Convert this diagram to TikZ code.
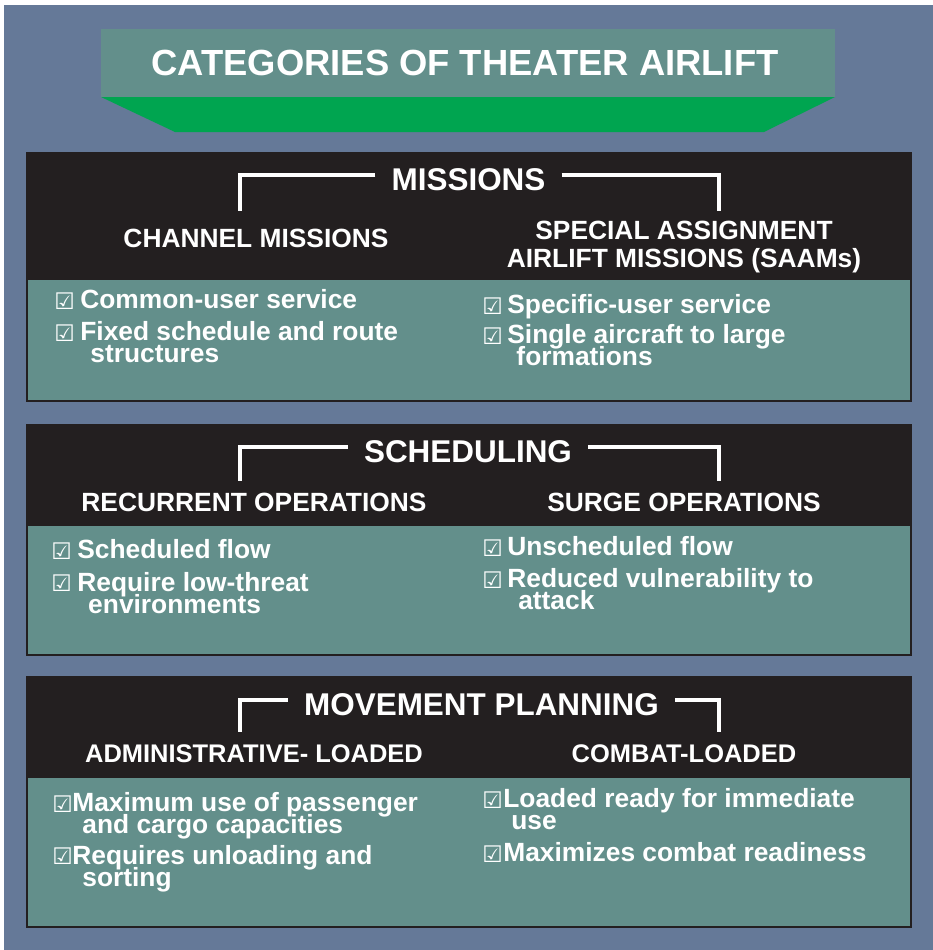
\documentclass[tikz,border=0pt]{standalone}
\usepackage{fontspec}
\setmainfont{Liberation Sans}
\newfontfamily\dejavu{DejaVu Sans}
\usetikzlibrary{positioning,calc}
\definecolor{SlateBg}{RGB}{101,121,152}
\definecolor{PanelTeal}{RGB}{99,143,139}
\definecolor{PanelDark}{RGB}{35,31,32}
\definecolor{BannerGreen}{RGB}{0,165,80}
\newcommand{\chk}{{\dejavu\symbol{"2611}}}
\newcommand{\tightlines}{\lineskiplimit-20pt\relax}
\tikzset{
  hdr/.style={draw=PanelDark,fill=PanelDark,line width=0.6pt},
  body/.style={draw=PanelDark,fill=PanelTeal,line width=0.6pt},
  brk/.style={draw=white,line width=1.9pt},
  headtxt/.style={text=white,font=\bfseries\fontsize{17.9}{18}\selectfont,anchor=base,
    inner xsep=9pt,inner ysep=0pt,text height=17pt,text depth=0pt},
  subtxt/.style={text=white,font=\bfseries\fontsize{15}{15.9}\selectfont\tightlines,
    anchor=base,inner sep=0pt,align=center},
  itemtxt/.style={text=white,font=\bfseries\fontsize{15}{12.5}\selectfont\tightlines,
    anchor=base west,inner sep=0pt,align=left},
  chkbox/.style={text=white,font=\dejavu\fontsize{13}{13}\selectfont,anchor=base west,inner sep=0pt},
}
\begin{document}
\begin{tikzpicture}[x=0.02cm,y=-0.02cm]
\useasboundingbox (0,0) rectangle (933,950);
\fill[white] (0,0) rectangle (933,950);
\fill[SlateBg] (4,5) rectangle (933,950);

\fill[BannerGreen] (101,97) -- (835,97) -- (764,132) -- (175,132) -- cycle;
\fill[PanelTeal] (101,29) rectangle (835,97);
\node[text=white,font=\bfseries\fontsize{20.7}{21}\selectfont,anchor=base,inner sep=0pt]
  (ttl) at (465,75) {CATEGORIES OF THEATER AIRLIFT};

\draw[hdr] (27,153) rectangle (911,279);
\draw[body] (27,279) rectangle (911,401);
\coordinate (misL) at (240,211);
\coordinate (misR) at (719,211);
\node[headtxt] (mis) at (468.5,190) {MISSIONS};
\draw[brk] (mis.west) -| (misL);
\draw[brk] (mis.east) -| (misR);
\node[subtxt] (chan) at (256,247) {CHANNEL MISSIONS};
\node[subtxt] (saam) at (684,267) {SPECIAL ASSIGNMENT\\AIRLIFT MISSIONS (SAAMs)};
\node[chkbox] (c11) at (54,309) {\chk};
\node[itemtxt] (i11) at (80,308) {Common-user service};
\node[chkbox] (c12) at (54,341) {\chk};
\node[itemtxt] (i12) at (80,362) {Fixed schedule and route\\\hspace*{5.7pt}structures};
\node[chkbox] (c13) at (482,314) {\chk};
\node[itemtxt] (i13) at (507,313) {Specific-user service};
\node[chkbox] (c14) at (482,344) {\chk};
\node[itemtxt] (i14) at (507,365) {Single aircraft to large\\\hspace*{5.2pt}formations};

\draw[hdr] (27,425) rectangle (911,525);
\draw[body] (27,525) rectangle (911,655);
\coordinate (schL) at (240,481);
\coordinate (schR) at (719,481);
\node[headtxt] (sch) at (468,462) {SCHEDULING};
\draw[brk] (sch.west) -| (schL);
\draw[brk] (sch.east) -| (schR);
\node[subtxt] (rec) at (254,511) {RECURRENT OPERATIONS};
\node[subtxt] (surge) at (684,511) {SURGE OPERATIONS};
\node[chkbox] (c21) at (51,559) {\chk};
\node[itemtxt] (i21) at (77,558) {Scheduled flow};
\node[chkbox] (c22) at (51,591) {\chk};
\node[itemtxt] (i22) at (77,613) {Require low-threat\\\hspace*{6.2pt}environments};
\node[chkbox] (c23) at (482,556) {\chk};
\node[itemtxt] (i23) at (507,555) {Unscheduled flow};
\node[chkbox] (c24) at (482,588) {\chk};
\node[itemtxt] (i24) at (507,609) {Reduced vulnerability to\\\hspace*{6.2pt}attack};

\draw[hdr] (27,677) rectangle (911,777);
\draw[body] (27,777) rectangle (911,927);
\coordinate (movL) at (240,732);
\coordinate (movR) at (719,732);
\node[headtxt] (mov) at (481.5,715) {MOVEMENT PLANNING};
\draw[brk] (mov.west) -| (movL);
\draw[brk] (mov.east) -| (movR);
\node[subtxt,font=\bfseries\fontsize{14.5}{15}\selectfont] (adm) at (254,762) {ADMINISTRATIVE- LOADED};
\node[subtxt,font=\bfseries\fontsize{14.5}{15}\selectfont] (comb) at (684,762) {COMBAT-LOADED};
\node[chkbox] (c31) at (52,812) {\chk};
\node[itemtxt] (i31) at (72,833) {Maximum use of passenger\\\hspace*{5.7pt}and cargo capacities};
\node[chkbox] (c32) at (52,864) {\chk};
\node[itemtxt] (i32) at (72,886) {Requires unloading and\\\hspace*{5.7pt}sorting};
\node[chkbox] (c33) at (482,808) {\chk};
\node[itemtxt] (i33) at (503,829) {Loaded ready for immediate\\\hspace*{4.5pt}use};
\node[chkbox] (c34) at (482,862) {\chk};
\node[itemtxt] (i34) at (503,861) {Maximizes combat readiness};
\end{tikzpicture}
\end{document}
